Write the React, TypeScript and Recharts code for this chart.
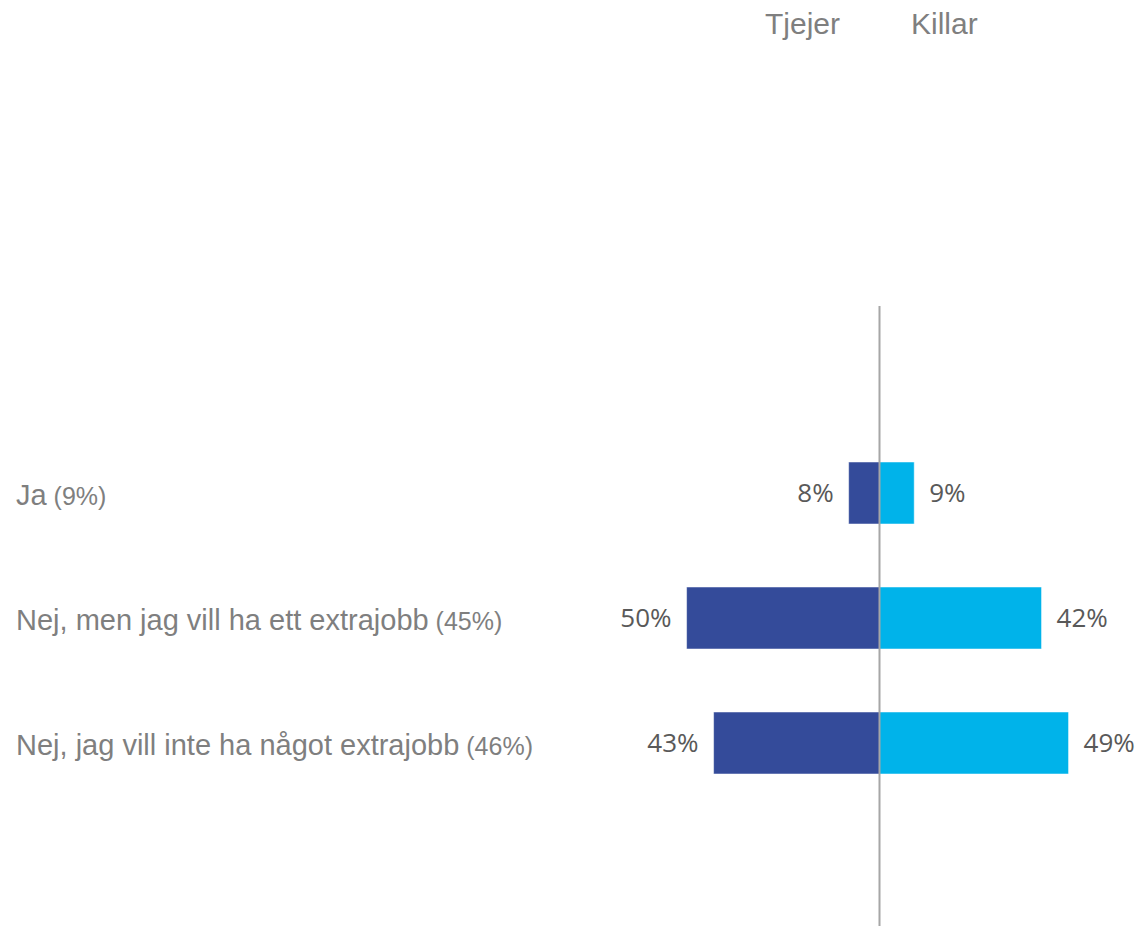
import React from 'react';
import { ComposedChart, Bar, XAxis, YAxis, ReferenceLine, LabelList, Legend } from 'recharts';

const categories = ['Ja', 'Nej, men jag vill ha ett extrajobb', 'Nej, jag vill inte ha något extrajobb'];
const totals = [9, 45, 46];
const tjejer = [8, 50, 43];
const killar = [9, 42, 49];

const data = categories.map((name, i) => ({
  name,
  total: totals[i],
  tjejer: -tjejer[i],
  killar: killar[i],
}));

const GREY = '#7f7f7f';
const ARIAL = "'Liberation Sans', Arial, sans-serif";

const CategoryTick = ({ y, payload, index }: any) => (
  <text x={16} y={y} dy={12} fontFamily={ARIAL} fill={GREY}>
    <tspan fontSize={29}>{payload.value}</tspan>
    <tspan fontSize={25}>{` (${totals[index]}%)`}</tspan>
  </text>
);

// series names shown as column headers above the chart
const HeaderLegend = ({ payload }: any) => {
  if (!payload) return null;
  const girls = payload.find((p: any) => p.value === 'Tjejer');
  const boys = payload.find((p: any) => p.value === 'Killar');
  return (
    <div style={{ position: 'relative', width: 1137, height: 50, fontFamily: ARIAL, fontSize: 30, color: GREY }}>
      {girls && <span style={{ position: 'absolute', top: 7, right: 297 }}>{girls.value}</span>}
      {boys && <span style={{ position: 'absolute', top: 7, left: 911 }}>{boys.value}</span>}
    </div>
  );
};

const pct = (v: any) => `${Math.abs(Number(v))}%`;

const App: React.FC = () => {
  return (
    <div>
      <style>{'body{margin:0;background:#fff}'}</style>
      <ComposedChart
        width={1137}
        height={926}
        data={data}
        layout="vertical"
        stackOffset="sign"
        margin={{ top: 256, right: 26, bottom: 0, left: 0 }}
      >
        <XAxis type="number" domain={[-60, 60]} hide />
        <YAxis
          type="category"
          dataKey="name"
          width={648}
          axisLine={false}
          tickLine={false}
          tick={<CategoryTick />}
          padding={{ top: 124, bottom: 121 }}
        />
        <Legend
          verticalAlign="top"
          align="left"
          content={<HeaderLegend />}
          wrapperStyle={{ top: 0, left: 0, width: 1137, height: 50 }}
        />
        <Bar dataKey="tjejer" name="Tjejer" stackId="a" fill="#344b9a" stroke="#ffffff" strokeWidth={0.5} barSize={62} isAnimationActive={false}>
          {/* bar width is negative here, so "right" lands on the outer (left) end */}
          <LabelList dataKey="tjejer" position="right" offset={15} formatter={pct} fill="#595959" fontSize={26} fontFamily="'Open Sans', sans-serif" />
        </Bar>
        <Bar dataKey="killar" name="Killar" stackId="a" fill="#00b3ea" stroke="#ffffff" strokeWidth={0.5} barSize={62} isAnimationActive={false}>
          <LabelList dataKey="killar" position="right" offset={15} formatter={pct} fill="#595959" fontSize={26} fontFamily="'Open Sans', sans-serif" />
        </Bar>
        <ReferenceLine x={0} stroke="#a6a6a6" strokeWidth={2} />
      </ComposedChart>
    </div>
  );
};

export default App;
